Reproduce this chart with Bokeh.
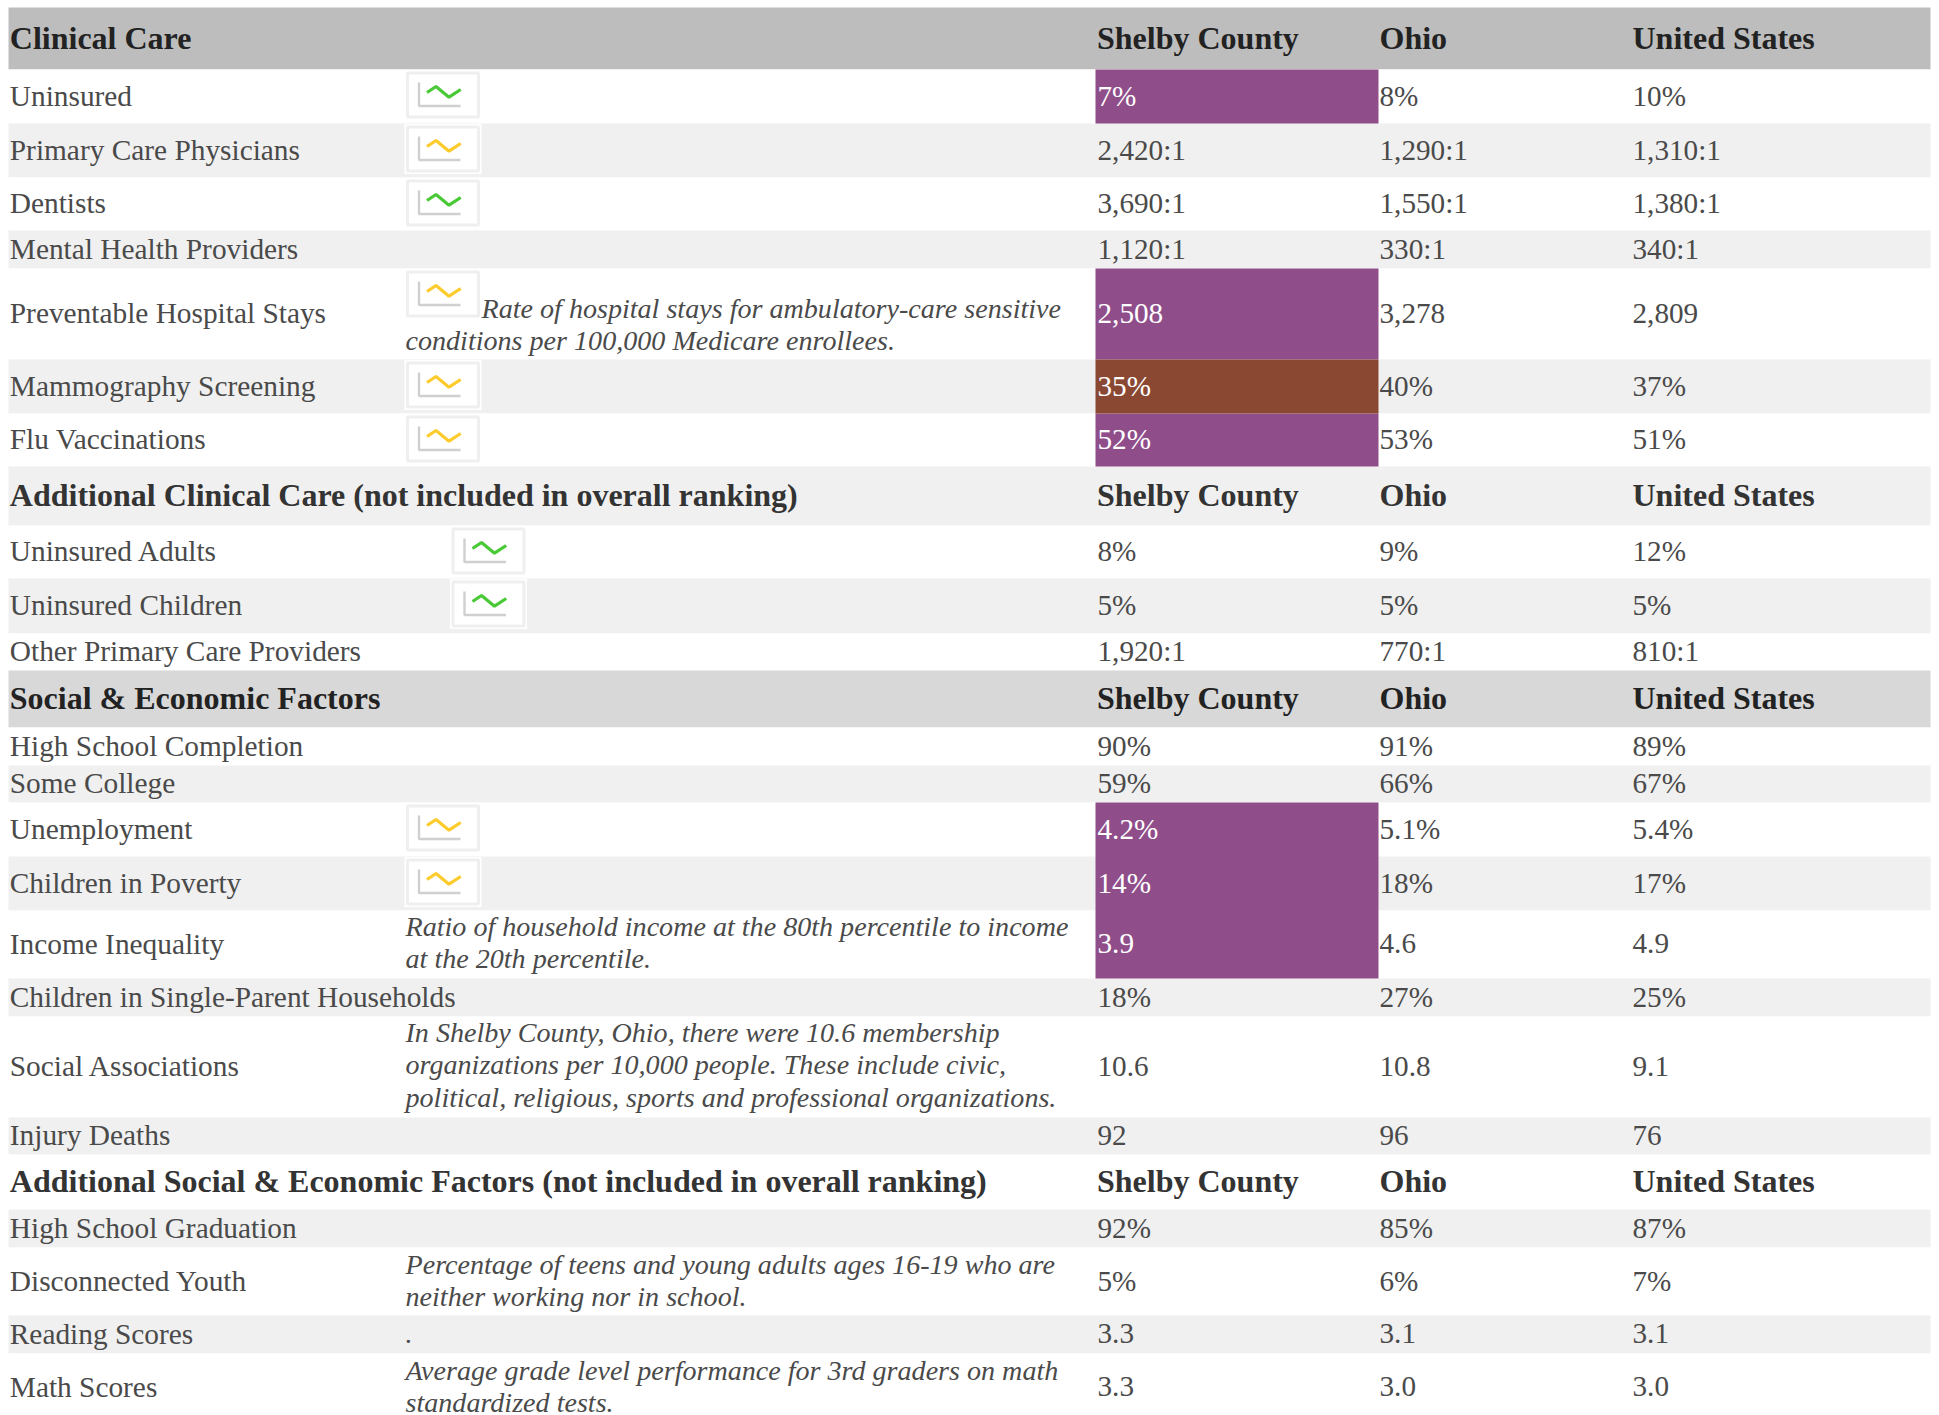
from bokeh.plotting import figure
from bokeh.models import Range1d
from bokeh.core.properties import value
from bokeh.embed import file_html
from bokeh.resources import INLINE

# ---- table content ----
labels = ["Clinical Care", "Uninsured", "Primary Care Physicians", "Dentists", "Mental Health Providers",
          "Preventable Hospital Stays", "Mammography Screening", "Flu Vaccinations",
          "Additional Clinical Care (not included in overall ranking)", "Uninsured Adults", "Uninsured Children",
          "Other Primary Care Providers", "Social & Economic Factors", "High School Completion", "Some College",
          "Unemployment", "Children in Poverty", "Income Inequality", "Children in Single-Parent Households",
          "Social Associations", "Injury Deaths",
          "Additional Social & Economic Factors (not included in overall ranking)", "High School Graduation",
          "Disconnected Youth", "Reading Scores", "Math Scores"]
shelby = ["Shelby County", "7%", "2,420:1", "3,690:1", "1,120:1", "2,508", "35%", "52%", "Shelby County", "8%", "5%",
          "1,920:1", "Shelby County", "90%", "59%", "4.2%", "14%", "3.9", "18%", "10.6", "92", "Shelby County", "92%",
          "5%", "3.3", "3.3"]
ohio = ["Ohio", "8%", "1,290:1", "1,550:1", "330:1", "3,278", "40%", "53%", "Ohio", "9%", "5%", "770:1", "Ohio", "91%",
        "66%", "5.1%", "18%", "4.6", "27%", "10.8", "96", "Ohio", "85%", "6%", "3.1", "3.0"]
us = ["United States", "10%", "1,310:1", "1,380:1", "340:1", "2,809", "37%", "51%", "United States", "12%", "5%",
      "810:1", "United States", "89%", "67%", "5.4%", "17%", "4.9", "25%", "9.1", "76", "United States", "87%", "7%",
      "3.1", "3.0"]
header_rows = [0, 8, 12, 21]
purple_spans = [(1, 1), (5, 5), (7, 7), (15, 17)]
brown_spans = [(6, 6)]
highlighted_rows = [1, 5, 6, 7, 15, 16, 17]
green_icon_rows = [1, 3, 9, 10]
yellow_icon_rows = [2, 5, 6, 7, 15, 16]
notes = [("Rate of hospital stays for ambulatory-care sensitive", 5, 0, True),
         ("conditions per 100,000 Medicare enrollees.", 5, 1, False),
         ("Ratio of household income at the 80th percentile to income", 17, 0, False),
         ("at the 20th percentile.", 17, 1, False),
         ("In Shelby County, Ohio, there were 10.6 membership", 19, 0, False),
         ("organizations per 10,000 people. These include civic,", 19, 1, False),
         ("political, religious, sports and professional organizations.", 19, 2, False),
         ("Percentage of teens and young adults ages 16-19 who are", 23, 0, False),
         ("neither working nor in school.", 23, 1, False),
         (".", 24, 0, False),
         ("Average grade level performance for 3rd graders on math", 25, 0, False),
         ("standardized tests.", 25, 1, False)]

# ---- layout (page pixels) ----
row_edges = [7, 69, 123, 177, 230, 268, 359, 413, 466, 525, 578, 633, 670, 727, 765, 802, 856, 910, 978, 1016, 1117,
             1154, 1209, 1247, 1315, 1353, 1421]
band_left, band_right = 8, 1930
col_shelby, col_ohio, col_us = 1097, 1379, 1632
cell_left, cell_right = 1095, 1378
label_x, note_x = 9.3, 405
note_line1 = {5: 308, 17: 926, 19: 1032, 23: 1264, 24: 1333, 25: 1370}
note_line_height = 32.3
band_colours = {0: "#bdbdbd", 8: "#f0f0f0", 12: "#d8d8d8", 21: "#ffffff"}
LABEL, REG, BOLD, ITALIC = "29.35px", "29.2px", "32px", "28.1px"
TEXT, DARK = "#4a4a4a", "#222222"
SERIF = value("Liberation Serif")

W, H = 1939, 1415
p = figure(width=W, height=H, x_range=Range1d(0, W), y_range=Range1d(H, 0), output_backend="svg",
           toolbar_location=None, min_border=0, outline_line_color=None, background_fill_color="#ffffff")
p.xaxis.visible = False
p.yaxis.visible = False
p.grid.visible = False

n = len(labels)
tops = row_edges[:-1]
bottoms = row_edges[1:]
centers = [(a + b) / 2 for a, b in zip(tops, bottoms)]

# row bands
band_fill = []
for i in range(n):
    if i in band_colours:
        band_fill.append(band_colours[i])
    else:
        band_fill.append("#f0f0f0" if i in (2, 4, 6, 10, 14, 16, 18, 20, 22, 24) else "#ffffff")
p.quad(left=band_left, right=band_right, top=tops, bottom=bottoms, fill_color=band_fill, line_color=None)

# highlighted cells
spans = purple_spans + brown_spans
cell_fill = ["#8f4e8a"] * len(purple_spans) + ["#8a4832"] * len(brown_spans)
p.quad(left=cell_left, right=cell_right, top=[tops[a] for a, b in spans], bottom=[bottoms[b] for a, b in spans],
       fill_color=cell_fill, line_color=None)

# trend icons
ICON_W, ICON_H = 71, 44
zig_dx = [19.5, 28.5, 41.5, 53.2]
zig_dy = [19.5, 13.5, 24.2, 16.5]
for rows, colour in ((green_icon_rows, "#49c936"), (yellow_icon_rows, "#fdcb2c")):
    for i in rows:
        left = 452.5 if i in (9, 10) else 407
        top = tops[i] + 3.5
        p.quad(left=[left - 3], right=[left + ICON_W + 3], top=[top - 3], bottom=[top + ICON_H + 3],
               fill_color="#ffffff", line_color=None)
        p.quad(left=[left], right=[left + ICON_W], top=[top], bottom=[top + ICON_H], fill_color="#ffffff",
               line_color="#efefef", line_width=3)
        p.line([left + 11.5, left + 11.5, left + 53], [top + 9.5, top + 33, top + 33], line_color="#d0d0d0",
               line_width=2.4)
        p.line([left + d for d in zig_dx], [top + d for d in zig_dy], line_color=colour, line_width=3.2)

# text
for col_x, texts in ((label_x, labels), (col_shelby, shelby), (col_ohio, ohio), (col_us, us)):
    for i in range(n):
        head = i in header_rows
        white = col_x == col_shelby and i in highlighted_rows
        colour = "#ffffff" if white else (DARK if i in (0, 12) else ("#333333" if head else TEXT))
        size = BOLD if head else (LABEL if col_x == label_x else REG)
        p.text(x=[col_x - (0.5 if head and col_x == col_shelby else 0)], y=[centers[i] + (-0.7 if head else -1)],
               text=[texts[i]], text_font=SERIF,
               text_font_size=size, text_font_style="bold" if head else "normal",
               text_color=colour, text_baseline="alphabetic", text_align="left")

for txt, row, line, after_icon in notes:
    p.text(x=[481 if after_icon else note_x], y=[note_line1[row] + line * note_line_height], text=[txt],
           text_font=SERIF, text_font_size=ITALIC, text_font_style="italic", text_color=TEXT,
           text_baseline="alphabetic", text_align="left")

open("out.html", "w").write(file_html(p, INLINE))
